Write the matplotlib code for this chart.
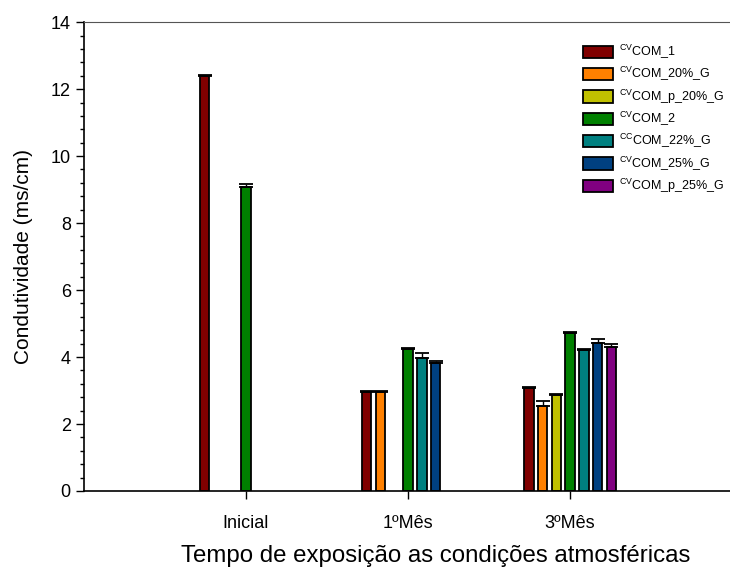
import matplotlib
matplotlib.use("Agg")
import matplotlib.pyplot as plt
import numpy as np

plt.rcParams['font.family'] = ['Liberation Sans', 'DejaVu Sans']
plt.rcParams['mathtext.fontset'] = 'custom'
plt.rcParams['mathtext.rm'] = 'Liberation Sans'

groups = ["Inicial", "1ºMês", "3ºMês"]
series = [
    r"$\mathregular{^{CV}}$COM_1",
    r"$\mathregular{^{CV}}$COM_20%_G",
    r"$\mathregular{^{CV}}$COM_p_20%_G",
    r"$\mathregular{^{CV}}$COM_2",
    r"$\mathregular{^{CC}}$COM_22%_G",
    r"$\mathregular{^{CV}}$COM_25%_G",
    r"$\mathregular{^{CV}}$COM_p_25%_G",
]
colors = ["#800000", "#FF8000", "#C0C000", "#008000", "#008080", "#004080", "#800080"]

# values per series for (Inicial, 1ºMês, 3ºMês); nan = no bar
values = [
    [12.39, 2.96, 3.08],
    [np.nan, 2.96, 2.54],
    [np.nan, np.nan, 2.87],
    [9.09, 4.25, 4.72],
    [np.nan, 3.98, 4.21],
    [np.nan, 3.83, 4.43],
    [np.nan, np.nan, 4.31],
]
errors = [
    [0.03, 0.03, 0.03],
    [0, 0.03, 0.14],
    [0, 0, 0.02],
    [0.08, 0.02, 0.02],
    [0, 0.15, 0.04],
    [0, 0.06, 0.10],
    [0, 0, 0.07],
]

fig = plt.figure(figsize=(7.3, 5.68), dpi=100)
ax = fig.add_axes([0.115, 0.1356, 0.888, 0.8254])

x = np.arange(len(groups))
slot = 0.085
width = 0.058
for k, (lab, col) in enumerate(zip(series, colors)):
    v = np.array(values[k], dtype=float)
    e = np.array(errors[k], dtype=float)
    mask = ~np.isnan(v)
    xs = x[mask] + (k - 3) * slot
    ax.bar(xs, v[mask], width=width, color=col, edgecolor="black", linewidth=1.3,
           label=lab, zorder=2)
    ax.errorbar(xs, v[mask], yerr=[np.zeros(mask.sum()), e[mask]], fmt="none",
                ecolor="black", elinewidth=1, capsize=5, capthick=1.3, zorder=3)

ax.set_xlim(-1, 3)
ax.set_ylim(0, 14)
ax.set_xticks(x)
ax.set_xticklabels(groups, fontsize=13)
ax.set_yticks(np.arange(0, 15, 2))
ax.set_yticks(np.arange(0, 14.01, 0.4), minor=True)
ax.tick_params(axis="y", labelsize=13, length=6, width=1, direction="out")
ax.tick_params(axis="y", which="minor", length=3, width=1)
ax.tick_params(axis="x", length=6, width=1, direction="out", pad=11)
ax.spines["right"].set_visible(False)
ax.spines["top"].set_color("#555555")
ax.spines["left"].set_linewidth(1.2)
ax.spines["bottom"].set_linewidth(1.2)

ax.set_ylabel("Condutividade (ms/cm)", fontsize=15, labelpad=13)
ax.set_xlabel("Tempo de exposição as condições atmosféricas", fontsize=17.3, va="baseline")
ax.xaxis.set_label_coords(0.543, -0.1515)

ax.legend(loc="upper left", bbox_to_anchor=(583 / 730, 1 - 43 / 568),
          bbox_transform=fig.transFigure, frameon=False, fontsize=9,
          borderpad=0, borderaxespad=0,
          handlelength=2.4, handleheight=1.12, labelspacing=0.34, handletextpad=0.5)

fig.savefig("out.png", dpi=100)
